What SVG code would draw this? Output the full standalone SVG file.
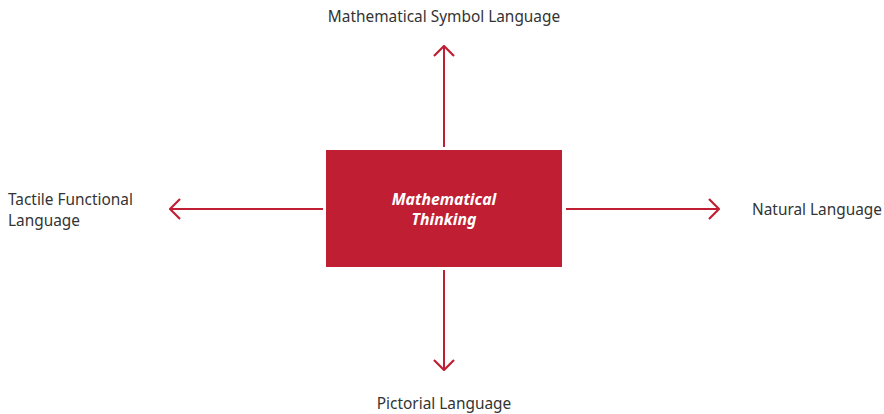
<svg xmlns="http://www.w3.org/2000/svg" width="884" height="414" viewBox="0 0 884 414">
<style>
.lbl{font-family:"Source Sans Pro","Noto Sans","Open Sans",sans-serif;font-size:15.4px;fill:#333333}
.box{fill:#C01F33}
.in{font-family:"Source Sans Pro","Noto Sans","Open Sans",sans-serif;font-size:15.8px;font-weight:bold;font-style:italic;fill:#ffffff;text-anchor:middle}
.ln{stroke:#C01F33;stroke-width:2;fill:none}
</style>
<defs>
<marker id="ah" viewBox="0 0 12 22" refX="11" refY="11" markerWidth="12" markerHeight="22" markerUnits="userSpaceOnUse" orient="auto">
<path d="M1,1 L11,11 L1,21" stroke="#C01F33" stroke-width="2.2" fill="none"/>
</marker>
</defs>
<rect width="884" height="414" fill="#ffffff"/>
<g id="connectors">
<line class="ln" x1="444" y1="147" x2="444" y2="46" marker-end="url(#ah)"/>
<line class="ln" x1="444" y1="270" x2="444" y2="370" marker-end="url(#ah)"/>
<line class="ln" x1="323" y1="209" x2="170" y2="209" marker-end="url(#ah)"/>
<line class="ln" x1="566" y1="209" x2="719" y2="209" marker-end="url(#ah)"/>
</g>
<g id="center">
<rect class="box" x="326" y="150" width="236" height="117"/>
<text class="in" x="444" y="205">Mathematical</text>
<text class="in" x="444" y="225">Thinking</text>
</g>
<g id="top"><text class="lbl" x="444" y="22" text-anchor="middle">Mathematical Symbol Language</text></g>
<g id="left"><text class="lbl" x="8" y="205">Tactile Functional</text><text class="lbl" x="8" y="226">Language</text></g>
<g id="right"><text class="lbl" x="752" y="215">Natural Language</text></g>
<g id="bottom"><text class="lbl" x="444" y="409" text-anchor="middle">Pictorial Language</text></g>
</svg>
